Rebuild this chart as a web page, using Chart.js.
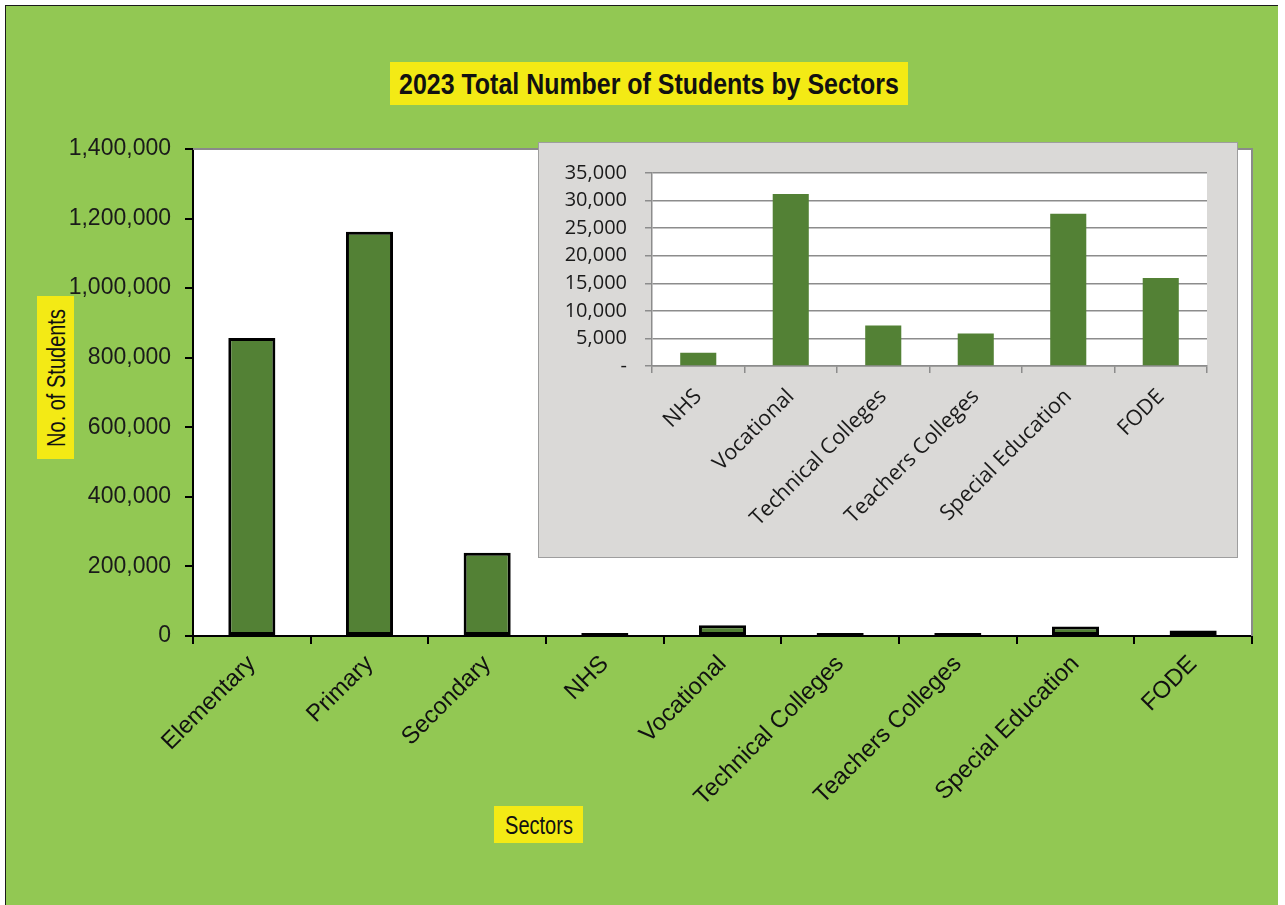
<!DOCTYPE html>
<html>
<head>
<meta charset="utf-8">
<title>2023 Total Number of Students by Sectors</title>
<script src="https://cdn.jsdelivr.net/npm/chart.js@4"></script>
<style>
  html, body { margin: 0; padding: 0; background: #ffffff; }
  body { width: 1285px; height: 905px; position: relative; overflow: hidden; }
  #panel {
    position: absolute; left: 5px; top: 5px; width: 1272px; height: 900px;
    background: #92c853; border-left: 1px solid #1a1a1a; border-top: 1px solid #1a1a1a;
  }
  #mainWrap { position: absolute; left: 0; top: 0; width: 1272px; height: 899px; }
  #insetWrap {
    position: absolute; left: 532px; top: 136px; width: 698px; height: 414px;
    background: #dad9d7; border: 1px solid #9e9e9e;
  }
  .tag {
    position: absolute; background: #f3ea15; color: #111;
    font-family: "Liberation Sans", Arial, sans-serif;
    white-space: nowrap;
  }
  /* texto estrecho: Liberation Sans comprimida en horizontal */
  .tag span {
    position: absolute; left: 50%; top: 50%; display: inline-block;
  }
  #title { left: 384px; top: 56px; width: 518px; height: 43px; }
  #title span { font-size: 29px; font-weight: bold; transform: translate(-50%, -50%) scaleX(0.86); }
  #yTitle { left: 31px; top: 290px; width: 37px; height: 163px; }
  #yTitle span { font-size: 25px; transform: translate(-50%, -50%) rotate(-90deg) scaleX(0.8); }
  #xTitle { left: 488px; top: 800px; width: 89px; height: 37px; }
  #xTitle span { font-size: 25px; transform: translate(-50%, -50%) scaleX(0.8); }
</style>
</head>
<body>
<div id="panel">
  <div id="mainWrap"><canvas id="chartMain"></canvas></div>
  <div id="insetWrap"><canvas id="chartInset"></canvas></div>
  <div class="tag" id="title"><span>2023 Total Number of Students by Sectors</span></div>
  <div class="tag" id="yTitle"><span>No. of Students</span></div>
  <div class="tag" id="xTitle"><span>Sectors</span></div>
</div>
<script>
/* Matrícula 2023 por sector: gráfica principal + recuadro con los sectores pequeños */

const sectors = [
  "Elementary", "Primary", "Secondary", "NHS", "Vocational",
  "Technical Colleges", "Teachers Colleges", "Special Education", "FODE",
];
const students = [857000, 1162000, 239000, 2400, 31200, 7350, 5900, 27600, 15950];

// Sectores chicos que se repiten en el recuadro ampliado
const smallSectors = sectors.slice(3);
const smallStudents = students.slice(3);

const mainYMax = 1400000;
const mainYStep = 200000;
const insetYMax = 35000;
const insetYStep = 5000;

const BAR_GREEN = "#538135";

// Pinta el fondo blanco del área de trazado
const plotBackground = {
  id: "plotBackground",
  beforeDraw(chart) {
    const { ctx, chartArea: a } = chart;
    ctx.save();
    ctx.fillStyle = "#ffffff";
    ctx.fillRect(a.left, a.top, a.right - a.left, a.bottom - a.top);
    ctx.restore();
  },
};

// Marco gris arriba y a la derecha del área de trazado principal
const plotFrame = {
  id: "plotFrame",
  afterDraw(chart) {
    const { ctx, chartArea: a } = chart;
    ctx.save();
    ctx.strokeStyle = "#8a8a8a";
    ctx.lineWidth = 2;
    ctx.beginPath();
    ctx.moveTo(a.left, a.top);
    ctx.lineTo(a.right, a.top);
    ctx.lineTo(a.right, a.bottom);
    ctx.stroke();
    ctx.restore();
  },
};

const fmt = (v) => Number(v).toLocaleString("en-US");

new Chart(document.getElementById("chartMain"), {
  type: "bar",
  data: {
    labels: sectors,
    datasets: [{
      data: students,
      backgroundColor: BAR_GREEN,
      borderColor: "#000000",
      borderWidth: 3,
      borderSkipped: false,
      minBarLength: 3,
      barPercentage: 0.4,
      categoryPercentage: 1,
    }],
  },
  options: {
    responsive: true,
    maintainAspectRatio: false,
    animation: false,
    layout: { padding: { top: 143, right: 26, left: 0, bottom: 0 } },
    plugins: { legend: { display: false }, tooltip: { enabled: false } },
    scales: {
      x: {
        offset: true,
        afterFit: (s) => { s.height = 269; },
        grid: {
          offset: true, drawOnChartArea: false, drawTicks: true,
          tickLength: 8, color: "#000000", lineWidth: 2,
        },
        border: { display: true, color: "#000000", width: 2 },
        ticks: {
          autoSkip: false, minRotation: 45, maxRotation: 45, padding: 6,
          color: "#111111",
          font: { family: "'Liberation Sans', Arial, sans-serif", size: 24 },
        },
      },
      y: {
        min: 0,
        max: mainYMax,
        afterFit: (s) => { s.width = 187; },
        grid: {
          drawOnChartArea: false, drawTicks: true,
          tickLength: 8, color: "#000000", lineWidth: 2,
        },
        border: { display: true, color: "#000000", width: 2 },
        ticks: {
          stepSize: mainYStep, autoSkip: false, padding: 14, color: "#1a1a1a",
          font: { family: "'Liberation Sans', Arial, sans-serif", size: 23 },
          callback: (v) => fmt(v),
        },
      },
    },
  },
  plugins: [plotBackground, plotFrame],
});

new Chart(document.getElementById("chartInset"), {
  type: "bar",
  data: {
    labels: smallSectors,
    datasets: [{
      data: smallStudents,
      backgroundColor: BAR_GREEN,
      borderWidth: 0,
      barPercentage: 0.39,
      categoryPercentage: 1,
    }],
  },
  options: {
    responsive: true,
    maintainAspectRatio: false,
    animation: false,
    layout: { padding: { top: 29, right: 30, left: 0, bottom: 0 } },
    plugins: { legend: { display: false }, tooltip: { enabled: false } },
    scales: {
      x: {
        offset: true,
        afterFit: (s) => { s.height = 191; },
        grid: {
          offset: true, drawOnChartArea: false, drawTicks: true,
          tickLength: 7, color: "#8c8c8c", lineWidth: 1.5,
        },
        border: { display: true, color: "#8c8c8c", width: 1.5 },
        ticks: {
          autoSkip: false, minRotation: 45, maxRotation: 45, padding: 11,
          color: "#1a1a1a",
          font: { family: "'Open Sans', sans-serif", size: 21.5 },
        },
      },
      y: {
        min: 0,
        max: insetYMax,
        afterFit: (s) => { s.width = 113; },
        grid: {
          drawTicks: true, tickLength: 7, color: "#8c8c8c", lineWidth: 1.5,
        },
        border: { display: true, color: "#8c8c8c", width: 1.5 },
        ticks: {
          stepSize: insetYStep, autoSkip: false, padding: 18, color: "#1a1a1a",
          font: { family: "'Open Sans', sans-serif", size: 20 },
          callback: (v) => (v === 0 ? "-" : fmt(v)),
        },
      },
    },
  },
  plugins: [plotBackground],
});
</script>
</body>
</html>
